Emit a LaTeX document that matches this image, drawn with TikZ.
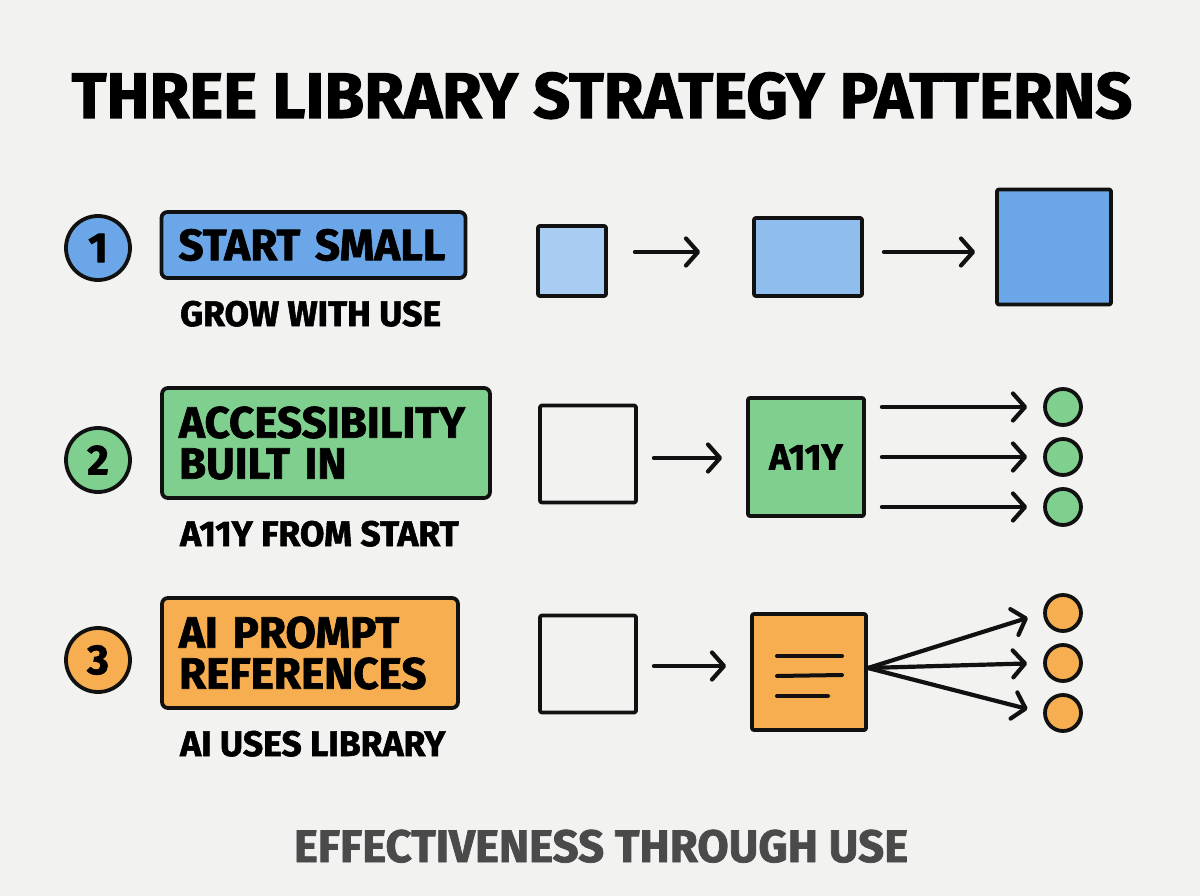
\documentclass[tikz,border=0pt]{standalone}
\usepackage{fontspec}
\setmainfont{Fira Sans}[BoldFeatures={FakeBold=1.6}]
\usetikzlibrary{arrows.meta}
\definecolor{bg}{HTML}{F2F2F0}
\definecolor{blueA}{HTML}{6BA7E8}
\definecolor{blueS}{HTML}{A9CCF3}
\definecolor{blueM}{HTML}{8FBDEE}
\definecolor{greenA}{HTML}{7FCF8F}
\definecolor{orangeA}{HTML}{F6AE50}
\definecolor{ink}{HTML}{111111}
\definecolor{subgray}{HTML}{4A4A4A}
\tikzset{
  ol/.style={draw=ink, line width=3.8pt, line join=round},
  sq/.style={ol, rectangle, rounded corners=2pt, inner sep=0pt},
  numc/.style={ol, circle, minimum size=64pt, inner sep=0pt, font=\fontsize{42}{42}\selectfont\bfseries},
  dotc/.style={ol, circle, minimum size=36pt, inner sep=0pt},
  lbl/.style={ol, rectangle, rounded corners=6pt, inner xsep=17pt, align=left, font=\fontsize{44}{41}\selectfont\bfseries},
  sub/.style={anchor=base west, inner sep=0pt, font=\fontsize{35.5}{36}\selectfont\bfseries},
  arr/.style={draw=ink, line width=4.2pt, line cap=round, -{Straight Barb[length=12pt,width=27pt,line width=4.2pt,line cap=round,line join=round]}},
  dash3/.style={draw=ink, line width=4pt, line cap=round},
}
\begin{document}
\begin{tikzpicture}[x=1pt,y=-1pt]
\fill[bg] (0,0) rectangle (1200,896);
\useasboundingbox (0,0) rectangle (1200,896);

% title
\node[font=\fontsize{64.5}{64.5}\selectfont\bfseries, inner sep=0pt, anchor=base] (title) at (602,118) {THREE LIBRARY STRATEGY PATTERNS};

% Row 1
\node[numc, fill=blueA] (n1) at (98,248) {1};
\node[lbl, fill=blueA, text width=270pt, minimum height=66pt] (l1) at (313.5,245) {START SMALL};
\node[sub] (s1) at (180,326) {GROW WITH USE};

\node[sq, fill=blueS, minimum width=68pt, minimum height=70pt] (b1) at (572,261) {};
\node[sq, fill=blueM, minimum width=108pt, minimum height=78pt] (b2) at (808,257) {};
\node[sq, fill=blueA, minimum width=114pt, minimum height=115pt] (b3) at (1054,247) {};
\draw[arr, shorten <=27pt, shorten >=52pt] (b1.east |- 0,252) -- (b2.west |- 0,252);
\draw[arr, shorten <=20pt, shorten >=20pt] (b2.east |- 0,252) -- (b3.west |- 0,252);

% Row 2
\node[numc, fill=greenA] (n2) at (98,460) {2};
\node[lbl, fill=greenA, text width=294pt, minimum height=110pt] (l2) at (326,443) {ACCESSIBILITY\\BUILT IN};
\node[sub] (s2) at (180,546) {A11Y FROM START};

\node[sq, fill=none, minimum width=96pt, minimum height=97pt] (w2) at (588,454) {};
\node[sq, fill=greenA, minimum width=116pt, minimum height=118pt, font=\fontsize{36}{36}\selectfont\bfseries] (g2) at (806,457) {A11Y};
\node[dotc, fill=greenA] (c21) at (1063,407) {};
\node[dotc, fill=greenA] (c22) at (1063,457) {};
\node[dotc, fill=greenA] (c23) at (1063,507) {};
\draw[arr, shorten <=16pt, shorten >=24pt] (w2.east |- 0,458) -- (g2.west |- 0,458);
\draw[arr, shorten <=16pt, shorten >=16pt] (g2.east |- c21) -- (c21.west);
\draw[arr, shorten <=16pt, shorten >=16pt] (g2.east |- c22) -- (c22.west);
\draw[arr, shorten <=16pt, shorten >=16pt] (g2.east |- c23) -- (c23.west);

% Row 3
\node[numc, fill=orangeA] (n3) at (98,660) {3};
\node[lbl, fill=orangeA, text width=262pt, minimum height=110pt] (l3) at (310,653) {AI PROMPT\\REFERENCES};
\node[sub] (s3) at (180,756) {AI USES LIBRARY};

\node[sq, fill=none, minimum width=96pt, minimum height=97pt] (w3) at (588,664) {};
\node[sq, fill=orangeA, minimum width=114pt, minimum height=116pt] (o3) at (809,672) {};
\draw[dash3] (777,656) -- (842,656);
\draw[dash3] (777,676) -- (842,675);
\draw[dash3] (777,696) -- (828,696);
\node[dotc, fill=orangeA] (c31) at (1063,613) {};
\node[dotc, fill=orangeA] (c32) at (1063,663) {};
\node[dotc, fill=orangeA] (c33) at (1063,713) {};
\draw[arr, shorten <=16pt, shorten >=24pt] (w3.east |- 0,666) -- (o3.west |- 0,666);
\coordinate (fan) at (868,668);
\draw[arr, shorten >=16pt] (fan) -- (c31.west);
\draw[arr, shorten >=16pt] (fan) -- (c32.west);
\draw[arr, shorten >=16pt] (fan) -- (c33.west);

% footer
\node[font=\fontsize{45.5}{45.5}\selectfont\bfseries, text=subgray, inner sep=0pt, anchor=base] (foot) at (601,862) {EFFECTIVENESS THROUGH USE};
\end{tikzpicture}
\end{document}
